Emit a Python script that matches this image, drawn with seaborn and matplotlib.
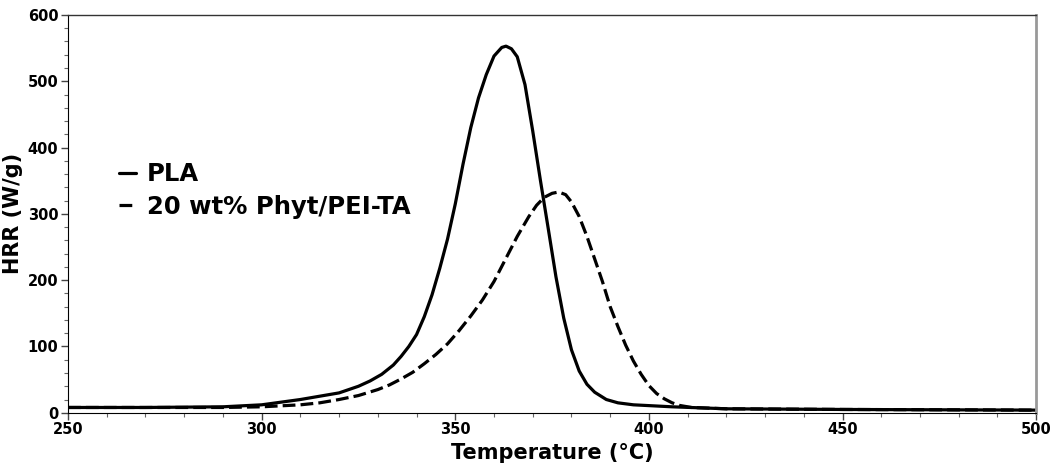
import numpy as np
import pandas as pd
import matplotlib
matplotlib.use("Agg")
import matplotlib.pyplot as plt
import seaborn as sns
from matplotlib.ticker import MultipleLocator

# data (HRR curves)
pla_temp = [250, 270, 290, 300, 305, 310, 315, 320, 325, 328, 331, 334, 336, 338,
            340, 342, 344, 346, 348, 350, 352, 354, 356, 358, 360, 362, 363.1,
            364.5, 366, 368, 370, 372, 374, 376, 378, 380, 382, 384, 386, 389,
            392, 396, 406, 420, 450, 500]
pla_hrr = [8, 8, 9, 12, 16, 20, 25, 30, 40, 48, 58, 72, 85, 100,
           118, 145, 178, 218, 262, 315, 375, 430, 475, 510, 538, 551, 553,
           549, 537, 495, 425, 350, 278, 205, 143, 95, 63, 43, 31, 20,
           15, 12, 9, 6, 5, 4]

phyt_temp = [250, 270, 290, 300, 310, 315, 320, 325, 330, 333, 336, 339, 342, 345,
             348, 351, 354, 357, 360, 363, 366, 369, 371, 373, 375, 376.7, 378.5,
             380, 382, 384, 386, 388, 390, 392, 394, 396, 398, 400, 402, 404,
             406, 408, 411, 420, 450, 500]
phyt_hrr = [8, 8, 8, 9, 12, 15, 20, 26, 35, 42, 51, 61, 74, 88,
            104, 124, 146, 170, 198, 232, 266, 296, 313, 325, 331, 333, 329,
            318, 296, 266, 232, 198, 160, 130, 102, 78, 58, 41, 29, 21,
            15, 11, 8, 6, 5, 4]

labels = ['PLA', '20 wt% Phyt/PEI-TA']

df = pd.concat([
    pd.DataFrame({'Temperature': pla_temp, 'HRR': pla_hrr, 'Sample': labels[0]}),
    pd.DataFrame({'Temperature': phyt_temp, 'HRR': phyt_hrr, 'Sample': labels[1]}),
])

sns.set_style("ticks")
plt.rcParams['font.family'] = ['DejaVu Sans']
plt.rcParams['text.color'] = 'black'
plt.rcParams['axes.labelcolor'] = 'black'
plt.rcParams['xtick.color'] = 'black'
plt.rcParams['ytick.color'] = 'black'

fig = plt.figure(figsize=(10.5, 4.68), dpi=100)
ax = fig.add_axes([0.0648, 0.118, 0.922, 0.850])

sns.lineplot(data=df, x='Temperature', y='HRR', style='Sample',
             dashes={labels[0]: '', labels[1]: (4, 1.6)},
             color='black', linewidth=2.3, sort=False, ax=ax)

ax.set_xlim(250, 500)
ax.set_ylim(0, 600)
ax.xaxis.set_major_locator(MultipleLocator(50))
ax.xaxis.set_minor_locator(MultipleLocator(10))
ax.yaxis.set_major_locator(MultipleLocator(100))
ax.yaxis.set_minor_locator(MultipleLocator(20))
ax.tick_params(which='major', direction='out', length=5, width=1, color='#444444',
               labelsize=10.5, pad=2)
ax.tick_params(which='minor', direction='out', length=3, width=0.8, color='#666666')
for lab in ax.get_xticklabels() + ax.get_yticklabels():
    lab.set_fontweight('bold')

ax.set_xlabel('Temperature (°C)', fontsize=15, fontweight='bold', labelpad=4)
ax.set_ylabel('HRR (W/g)', fontsize=15, fontweight='bold')
ax.yaxis.set_label_coords(-0.047, 0.5)

ax.spines['left'].set_color('black')
ax.spines['bottom'].set_color('black')
ax.spines['top'].set_color('#333333')
ax.spines['top'].set_linewidth(1)
ax.spines['right'].set_color('#999999')
ax.spines['right'].set_linewidth(2)

leg = ax.legend(loc='upper left', bbox_to_anchor=(0.03, 0.685), frameon=False,
                handlelength=0.7, handletextpad=0.45, labelspacing=0.35,
                prop={'weight': 'bold', 'size': 17.5})

fig.savefig('out.png', dpi=100)
